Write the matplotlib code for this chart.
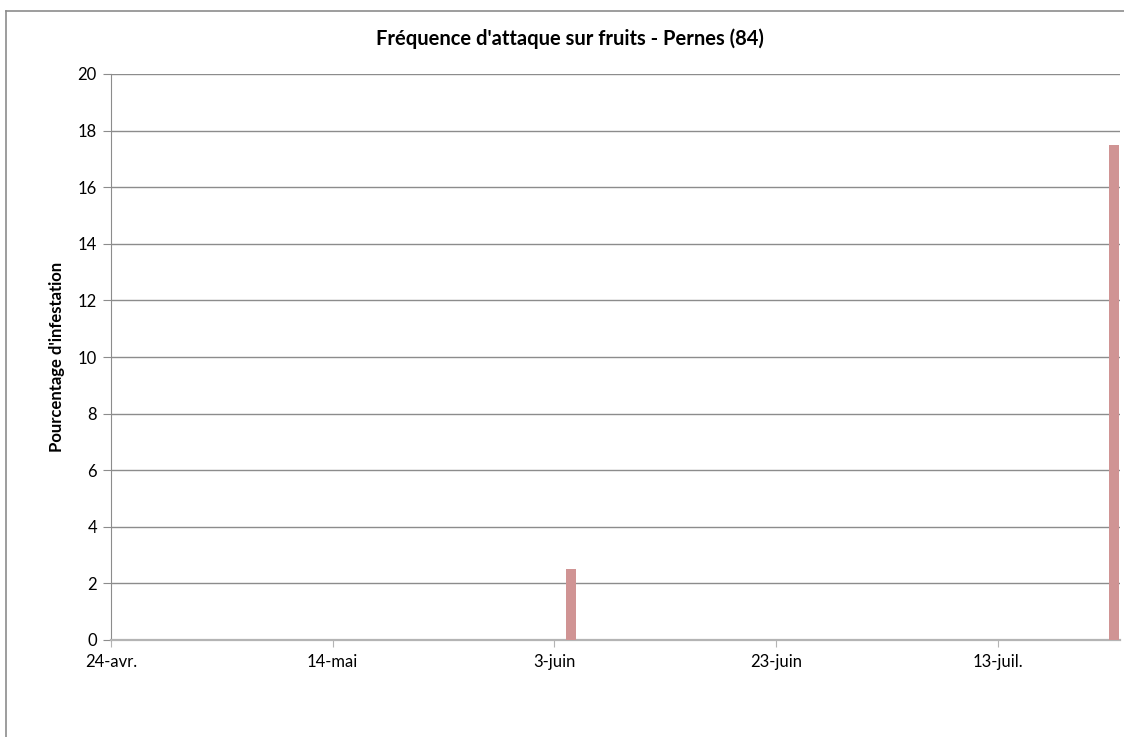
import matplotlib
matplotlib.use("Agg")
import matplotlib.pyplot as plt
import matplotlib.dates as mdates
from matplotlib.lines import Line2D
import datetime as dt

# Data
dates = ["2012-06-04", "2012-07-23"]
values = [2.5, 17.5]
tick_dates = ["2012-04-24", "2012-05-14", "2012-06-03", "2012-06-23", "2012-07-13"]
tick_labels = ["24-avr.", "14-mai", "3-juin", "23-juin", "13-juil."]
title = "Fréquence d'attaque sur fruits - Pernes (84)"
ylabel = "Pourcentage d'infestation"

plt.rcParams['font.family'] = ['Lato', 'DejaVu Sans']

fig = plt.figure(figsize=(11.24, 7.37), dpi=100)
ax = fig.add_axes([110.8/1124, 1-640/737, (1120-110.8)/1124, (640-74)/737])

xd = [mdates.date2num(dt.datetime.strptime(d, "%Y-%m-%d")) + 0.5 for d in dates]
ax.bar(xd, values, width=0.9, color="#D09494", zorder=3)

x0 = mdates.date2num(dt.datetime(2012, 4, 24))
ax.set_xlim(x0, x0 + 91)
ax.set_ylim(0, 20)
ax.set_yticks(range(0, 21, 2))
ax.set_xticks([mdates.date2num(dt.datetime.strptime(d, "%Y-%m-%d")) for d in tick_dates])
ax.set_xticklabels(tick_labels)

ax.grid(axis='y', color="#8c8c8c", linewidth=1.0, zorder=0)
for s in ["top", "right"]:
    ax.spines[s].set_visible(False)
ax.spines["left"].set_color("#8c8c8c")
ax.spines["bottom"].set_color("#b4b4b4")
ax.spines["bottom"].set_linewidth(1.6)
ax.tick_params(axis='y', length=6, color="#8c8c8c", labelsize=12, pad=4)
ax.tick_params(axis='x', length=5, color="#b4b4b4", labelsize=12, pad=5)

ax.set_ylabel(ylabel, fontsize=12, fontweight='bold', labelpad=9)
fig.text(0.507, 1-39/737, title, ha='center', va='center', fontsize=14.5, fontweight='bold')

# chart border (top and left visible)
fig.add_artist(Line2D([6.5/1124, 1.0], [1-10.5/737, 1-10.5/737], color="#8c8c8c", linewidth=1.2, transform=fig.transFigure))
fig.add_artist(Line2D([6.5/1124, 6.5/1124], [0.0, 1-10.5/737], color="#8c8c8c", linewidth=1.2, transform=fig.transFigure))

fig.savefig("out.png", dpi=100)
